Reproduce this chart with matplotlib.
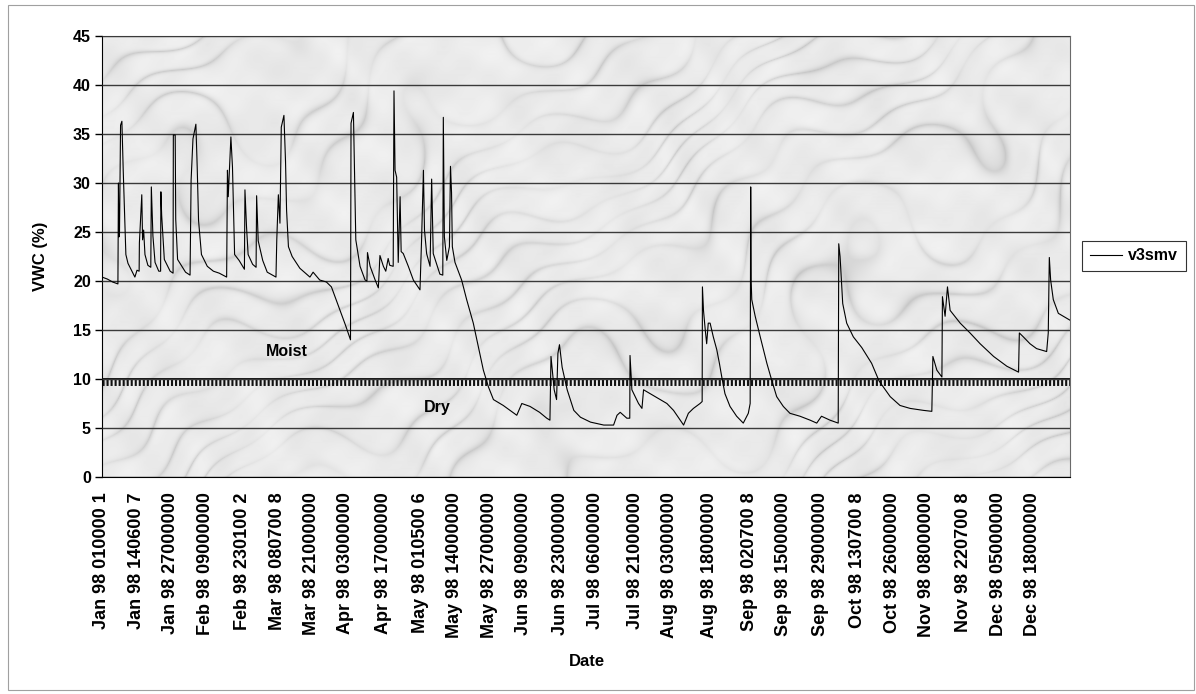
import numpy as np
import matplotlib
matplotlib.use("Agg")
import matplotlib.pyplot as plt
from matplotlib.patches import Rectangle

plt.rcParams["font.family"] = ["Liberation Sans", "DejaVu Sans"]
plt.rcParams["font.weight"] = "bold"
plt.rcParams["lines.scale_dashes"] = False

# Soil moisture readings (day of 1998, VWC %)
day = [
    0.0, 2.0, 4.0, 6.0, 6.2, 6.4, 6.6, 7.0, 7.5, 8.0, 8.5, 9.0, 9.8, 11.5, 12.4, 13.2,
    14.0, 14.1, 15.0, 15.3, 15.7, 16.2, 17.3, 18.4, 18.6, 19.2, 20.0, 21.4, 22.1, 22.2,
    22.5, 23.5, 25.7, 26.8, 26.9, 27.6, 27.8, 28.5, 31.5, 33.2, 33.6, 34.3, 35.4, 35.9,
    36.4, 37.5, 39.7, 42.0, 44.2, 47.0, 47.3, 47.6, 48.6, 49.2, 50.0, 51.7, 53.7, 53.9,
    54.5, 55.1, 56.8, 58.1, 58.3, 58.9, 60.6, 62.3, 65.6, 65.9, 66.5, 67.1, 67.6, 68.6,
    69.2, 69.6, 70.3, 71.7, 74.6, 78.4, 79.6, 82.1, 84.6, 86.5, 88.4, 89.8, 91.8, 93.7,
    93.9, 94.8, 95.2, 95.7, 97.3, 99.2, 99.9, 100.1, 101.1, 103.0, 104.2, 104.8, 106.1,
    107.0, 107.9, 108.5, 109.8, 110.1, 110.5, 111.1, 111.7, 112.4, 112.8, 113.6, 115.5,
    117.4, 119.9, 120.5, 121.2, 121.6, 122.4, 123.7, 124.3, 124.9, 127.4, 128.5, 128.7,
    129.1, 130.0, 131.0, 131.4, 131.8, 132.1, 133.1, 135.6, 137.5, 140.0, 141.9, 143.8,
    145.7, 147.6, 151.3, 156.4, 158.3, 161.4, 165.0, 167.7, 168.9, 169.3, 170.5, 171.4,
    171.9, 172.5, 173.5, 175.4, 177.9, 180.4, 184.2, 189.2, 192.9, 194.2, 195.4, 197.9,
    199.0, 199.1, 199.8, 202.3, 203.6, 204.2, 206.7, 210.5, 213.0, 215.5, 218.0, 219.3,
    221.1, 223.0, 225.5, 226.3, 226.4, 226.8, 227.4, 228.0, 228.6, 229.3, 230.5, 231.8,
    232.8, 233.7, 234.9, 236.8, 239.3, 241.8, 243.7, 244.4, 244.6, 244.8, 245.0, 246.3,
    248.2, 250.7, 252.5, 254.4, 256.9, 259.4, 263.2, 267.0, 269.5, 271.3, 274.5, 277.6,
    277.8, 278.3, 279.3, 280.8, 283.3, 286.5, 290.2, 293.0, 297.2, 300.9, 304.7, 309.7,
    312.9, 313.3, 314.8, 316.7, 316.9, 317.9, 318.8, 319.8, 323.6, 327.3, 331.1, 336.2,
    341.2, 345.6, 345.9, 347.4, 349.9, 352.4, 356.2, 356.8, 357.2, 357.7, 358.7, 360.6,
    362.5, 365.0,
]
vwc = [
    20.4, 20.2, 19.9, 19.7, 30.0, 24.5, 25.0, 35.9, 36.3, 31.3, 26.9, 22.7, 21.8, 20.9, 20.4, 21.1,
    21.0, 23.9, 28.8, 24.2, 25.2, 22.7, 21.6, 21.4, 29.6, 24.6, 21.9, 21.0, 21.0, 29.1,
    26.7, 22.2, 21.0, 20.8, 34.9, 34.9, 26.3, 22.2, 20.9, 20.6, 30.3, 34.5, 36.0, 31.6,
    26.2, 22.7, 21.5, 21.0, 20.8, 20.4, 31.3, 28.6, 34.7, 31.6, 22.7, 22.1, 21.2, 29.3,
    25.5, 22.7, 21.7, 21.4, 28.7, 24.1, 22.1, 20.9, 20.4, 24.2, 28.8, 25.9, 35.7, 36.9,
    32.2, 27.2, 23.5, 22.5, 21.3, 20.4, 20.9, 20.1, 19.9, 19.4, 18.0, 17.0, 15.5, 14.0,
    36.1, 37.2, 31.3, 24.2, 21.5, 20.1, 20.0, 22.9, 21.5, 20.1, 19.3, 22.6, 21.5,
    21.0, 22.3, 21.6, 21.5, 39.4, 31.3, 30.6, 21.9, 28.6, 23.0, 22.8, 21.5,
    20.1, 19.1, 24.2, 31.3, 25.2, 22.8, 21.5, 30.4, 22.8, 20.7, 20.6, 36.7,
    24.5, 22.1, 23.5, 31.7, 29.0, 23.5, 21.9, 20.1, 18.1, 15.7, 13.3, 10.9,
    9.2, 7.9, 7.3, 6.3, 7.5, 7.2, 6.6, 6.0, 5.8, 12.3, 8.9, 7.9,
    12.6, 13.5, 11.2, 8.9, 6.8, 6.1, 5.6, 5.3, 5.3, 6.3, 6.6, 6.0,
    6.0, 12.4, 8.9, 7.5, 7.0, 8.9, 8.5, 7.9, 7.5, 6.8, 5.8, 5.3,
    6.5, 7.0, 7.5, 7.7, 19.4, 17.0, 15.2, 13.6, 15.7, 15.7, 14.3, 13.0,
    11.6, 10.2, 8.5, 7.2, 6.2, 5.5, 6.5, 7.5, 29.6, 19.9, 18.1, 16.4,
    14.3, 11.6, 9.9, 8.2, 7.2, 6.5, 6.2, 5.8, 5.5, 6.2, 5.8, 5.5,
    23.8, 22.5, 17.7, 15.7, 14.3, 13.2, 11.6, 9.8, 8.2, 7.3, 7.0, 6.8,
    6.7, 12.3, 10.9, 10.2, 18.4, 16.4, 19.4, 17.0, 15.7, 14.7, 13.6, 12.3,
    11.3, 10.7, 14.7, 14.3, 13.6, 13.1, 12.8, 14.7, 22.4, 20.1, 18.1, 16.7,
    16.4, 16.0,
]

# Category labels on the date axis and where they fall (day of year)
tick_days = [0, 13, 26, 39, 53, 66, 79, 92, 106, 120, 133, 146, 159, 173,
             186, 201, 214, 229, 244, 257, 271, 285, 298, 311, 325, 338, 351]
tick_labels = [
    "Jan 98 010000 1", "Jan 98 140600 7", "Jan 98 27000000", "Feb 98 09000000",
    "Feb 98 230100 2", "Mar 98 080700 8", "Mar 98 21000000", "Apr 98 03000000",
    "Apr 98 17000000", "May 98 010500 6", "May 98 14000000", "May 98 27000000",
    "Jun 98 09000000", "Jun 98 23000000", "Jul 98 06000000", "Jul 98 21000000",
    "Aug 98 03000000", "Aug 98 18000000", "Sep 98 020700 8", "Sep 98 15000000",
    "Sep 98 29000000", "Oct 98 130700 8", "Oct 98 26000000", "Nov 98 08000000",
    "Nov 98 220700 8", "Dec 98 05000000", "Dec 98 18000000",
]
threshold = 10

fig = plt.figure(figsize=(11.96, 6.94), dpi=100)
ax = fig.add_axes([102 / 1196, 1 - 477 / 694, 968 / 1196, 441 / 694])

# soft marble-like backdrop for the plot area
ny, nx = 441, 968
yy, xx = np.mgrid[0:ny, 0:nx].astype(float)
turb = np.zeros_like(xx)
for fx, fy, ph, amp in [(0.008, 0.013, 0.3, 1.0), (0.019, -0.007, 1.7, 0.6),
                        (0.033, 0.027, 2.9, 0.35), (0.052, -0.041, 0.8, 0.2)]:
    turb += amp * np.sin(fx * xx + fy * yy + ph)
mottle = np.zeros_like(xx)
for fx, fy, ph, amp in [(0.045, -0.062, 1.1, 1.0), (0.081, 0.057, 3.3, 0.8),
                        (0.13, -0.097, 0.4, 0.6), (0.21, 0.17, 2.0, 0.4)]:
    mottle += amp * np.sin(fx * xx + fy * yy + ph + 2.0 * turb)
u = (0.6 * xx + yy) * 2 * np.pi / 90 + 3.5 * turb
vein = (1 - np.abs(np.sin(u))) ** 4
tex = 0.945 - 0.13 * vein * (0.6 + 0.4 * np.sin(0.02 * xx - 0.03 * yy + turb)) \
    - 0.025 * (mottle + 2.8) / 2.8
ax.imshow(tex, cmap="gray", vmin=0, vmax=1, extent=[0, 365, 0, 45],
          aspect="auto", interpolation="bilinear", zorder=0)

ax.set_xlim(0, 365)
ax.set_ylim(0, 45)
ax.set_yticks(range(0, 46, 5))
ax.yaxis.grid(True, color="#3a3a3a", linewidth=1.0)
ax.set_axisbelow(False)

# dry / moist boundary drawn as a comb line
ax.axhline(threshold + 0.05, color="black", linewidth=1.3, zorder=2)
ax.axhline(threshold - 0.32, color="#111111", linewidth=5.0,
           dashes=(1.5, 1.4), zorder=2)

ax.plot(day, vwc, color="black", linewidth=0.8, label="v3smv", zorder=3)

ax.text(69.8, 12.8, "Moist", ha="center", va="center", fontsize=11.5, zorder=4)
ax.text(126.3, 7.1, "Dry", ha="center", va="center", fontsize=11.5, zorder=4)

ax.set_xticks(tick_days)
ax.set_xticklabels(tick_labels, rotation=90, fontsize=13, fontweight="bold")
ax.tick_params(axis="x", length=0, pad=11)
ax.tick_params(axis="y", length=5, width=1, pad=3, labelsize=11.5)

for side in ["top", "right"]:
    ax.spines[side].set_color("#6a6a6a")
for side in ["left", "bottom"]:
    ax.spines[side].set_color("black")

fig.text(40 / 1196, 1 - 256 / 694, "VWC (%)", rotation=90, ha="center",
         va="center", fontsize=12)
fig.text(587 / 1196, 1 - 662 / 694, "Date", ha="center", va="center", fontsize=12)

leg = fig.legend(loc="center left", bbox_to_anchor=(1082 / 1196, 1 - 256 / 694),
                 fontsize=11.5, frameon=True, fancybox=False, handlelength=2.0,
                 handletextpad=0.4, borderpad=0.5, borderaxespad=0.0)
leg.get_frame().set_edgecolor("black")
leg.get_frame().set_linewidth(0.8)

fig.add_artist(Rectangle((8 / 1196, 4 / 694), 1186 / 1196, 685 / 694,
                         transform=fig.transFigure, fill=False,
                         edgecolor="#a0a0a0", linewidth=0.8))

fig.savefig("out.png", dpi=100)
